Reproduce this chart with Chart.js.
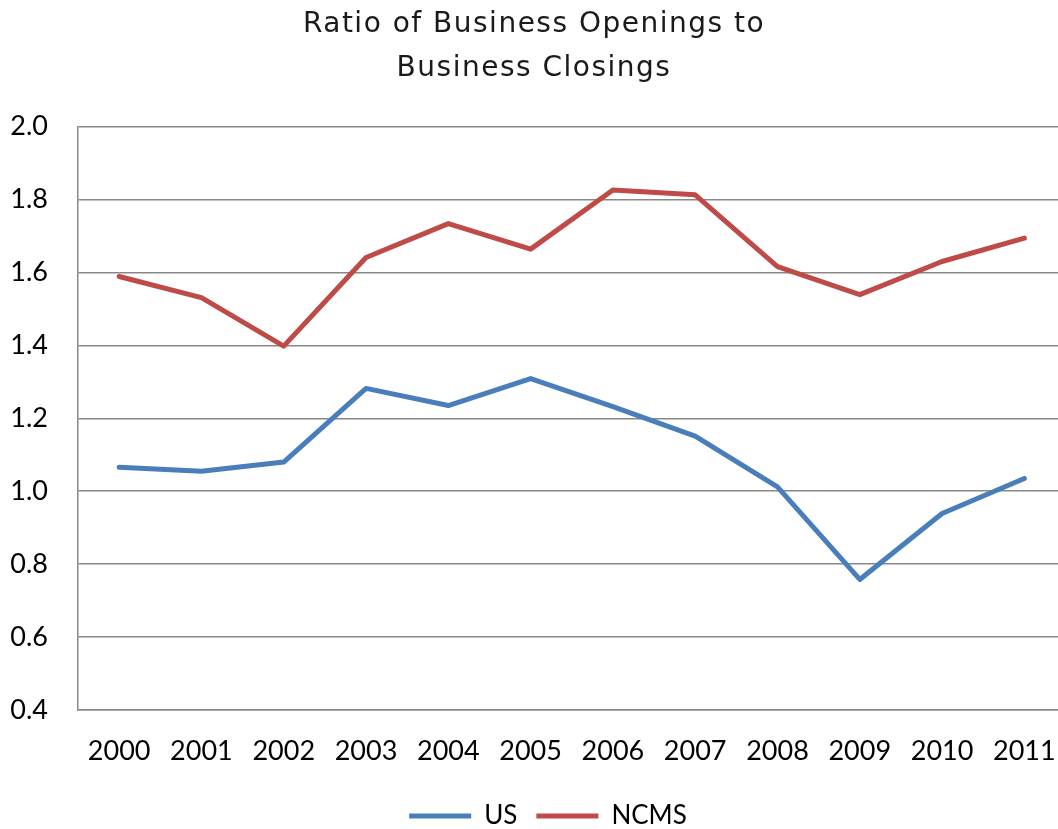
<!DOCTYPE html>
<html>
<head>
<meta charset="utf-8">
<script src="https://cdn.jsdelivr.net/npm/chart.js@4"></script>
<style>
  html, body { margin: 0; padding: 0; background: #fff; overflow: hidden; }
  #wrap { width: 1068px; height: 841px; }
</style>
</head>
<body>
<div id="wrap"><canvas id="ratio-chart" width="1068" height="841"></canvas></div>
<script>
// ------------------------------------------------------
// @Data
// ------------------------------------------------------

const years = ['2000', '2001', '2002', '2003', '2004', '2005', '2006', '2007', '2008', '2009', '2010', '2011'];
const usRatio   = [1.066, 1.055, 1.080, 1.282, 1.235, 1.309, 1.232, 1.151, 1.012, 0.758, 0.939, 1.035];
const ncmsRatio = [1.589, 1.531, 1.398, 1.641, 1.734, 1.664, 1.826, 1.813, 1.616, 1.539, 1.630, 1.694];
const titleLines = ['Ratio of Business Openings to', 'Business Closings'];

const COLORS = {
  us   : '#4A7EBB',
  ncms : '#BE4B48',
  grid : '#888888',
};

const tickFont = { family: 'Lato', size: 27 };

// nudge the legend a little right of centre, like the spreadsheet does
const legendShift = {
  id: 'legendShift',
  afterLayout(chart) {
    if (chart.legend) {
      chart.legend.left += 14;
      chart.legend.right += 14;
    }
  },
};

// ------------------------------------------------------
// @Line Chart
// ------------------------------------------------------

const ratioCanvas = document.getElementById('ratio-chart');

if (ratioCanvas) {
  const ctx = ratioCanvas.getContext('2d');

  const lineStyle = {
    borderWidth      : 5,
    borderCapStyle   : 'round',
    borderJoinStyle  : 'round',
    pointRadius      : 0,
    pointHoverRadius : 0,
    pointStyle       : 'line',
    tension          : 0,
    fill             : false,
  };

  const ratioChart = new Chart(ctx, {
    type: 'line',
    data: {
      labels: years,
      datasets: [{
        label           : 'US',
        data            : usRatio,
        borderColor     : COLORS.us,
        backgroundColor : COLORS.us,
        ...lineStyle,
      }, {
        label           : 'NCMS',
        data            : ncmsRatio,
        borderColor     : COLORS.ncms,
        backgroundColor : COLORS.ncms,
        ...lineStyle,
      }],
    },

    options: {
      responsive: false,
      animation: false,
      layout: {
        padding: { left: 0, right: 0, top: 0, bottom: 2 },
      },
      plugins: {
        title: {
          display    : true,
          text       : titleLines,
          color      : '#1a1a1a',
          font       : { family: 'DejaVu Sans', size: 28, weight: 'normal', lineHeight: 1.6 },
          padding    : { top: 2, bottom: 35 },
        },
        legend: {
          position: 'bottom',
          labels: {
            usePointStyle   : true,
            pointStyleWidth : 62,
            boxHeight       : 6,
            padding         : 19,
            color           : '#000',
            font            : { family: 'Lato', size: 26 },
          },
        },
        tooltip: { enabled: false },
      },
      scales: {
        x: {
          offset: true,
          // keep the plot flush with the canvas edges, labels sit inside the bands
          afterFit: (scale) => {
            scale.paddingLeft = 0;
            scale.paddingRight = 0;
            scale.height = 74;
          },
          grid: {
            display   : false,
            drawTicks : false,
          },
          border: { color: COLORS.grid, width: 1.5 },
          ticks: {
            color       : '#000',
            font        : tickFont,
            padding     : 25,
            maxRotation : 0,
            autoSkip    : false,
          },
        },
        y: {
          min: 0.4,
          max: 2.0,
          afterFit: (scale) => { scale.width = 78; },
          grid: {
            color     : COLORS.grid,
            lineWidth : 1.5,
            drawTicks : false,
          },
          border: { color: COLORS.grid, width: 1.5 },
          ticks: {
            stepSize : 0.2,
            color    : '#000',
            font     : tickFont,
            padding  : 30,
            callback : (value) => value.toFixed(1),
          },
        },
      },
    },
    plugins: [legendShift],
  });

  // slightly wider tracking on the title only
  const drawTitle = ratioChart.titleBlock.draw;
  ratioChart.titleBlock.draw = function () {
    const c = this.ctx;
    c.save();
    c.letterSpacing = '1.5px';
    drawTitle.apply(this, arguments);
    c.restore();
  };
  ratioChart.update();
}
</script>
</body>
</html>
